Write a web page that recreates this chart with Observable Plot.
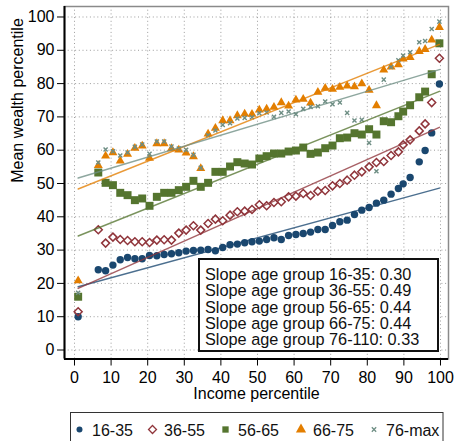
<!DOCTYPE html>
<html>
<head>
<meta charset="utf-8">
<script src="https://cdn.jsdelivr.net/npm/d3@7"></script>
<script src="https://cdn.jsdelivr.net/npm/@observablehq/plot@0.6"></script>
<style>
  body { margin: 0; background: #fff; font-family: "Liberation Sans", Arial, sans-serif; }
  #wrap { position: relative; width: 454px; height: 441px; overflow: hidden; background: #fff; }
  #chart svg { display: block; }
  #note { position: absolute; left: 198px; top: 258px; width: 241px; height: 94px; box-sizing: border-box;
          border: 2px solid #111; background: #fff; padding: 6px 0 0 5px; font-size: 16.3px; line-height: 16.3px; color: #111; white-space: nowrap; }
  #legend { position: absolute; left: 0; top: 405px; }
</style>
</head>
<body>
<div id="wrap">
  <div id="chart"></div>
  <div id="note"></div>
  <svg id="legend" width="454" height="36"></svg>
</div>
<script>
// ---- data ----
const incomePct = [1, 6.5, 8.5, 10.5, 12.5, 14.5, 16.5, 18.5, 20.5, 22.5, 24.5, 26.5, 28.5, 30.5, 32.5, 34.5,
  36.5, 38.5, 40.5, 42.5, 44.5, 46.5, 48.5, 50.5, 52.5, 54.5, 56.5, 58.5, 60.5, 62.5, 64.5, 66.5, 68.5,
  70.5, 72.5, 74.5, 76.5, 78.5, 80.5, 82.5, 84.5, 86.5, 88.5, 89.8, 91.7, 94.2, 95.8, 97.6, 99.7];

const age16_35 = [10.0, 24.1, 23.8, 25.5, 27.1, 27.8, 27.4, 27.4, 28.4, 28.3,
  28.7, 28.9, 29.2, 29.7, 29.9, 30.0, 30.2, 29.8, 30.8, 31.6,
  31.8, 32.2, 32.5, 32.7, 33.2, 33.7, 33.2, 34.4, 34.7, 35.0,
  35.4, 36.2, 36.2, 37.4, 38.5, 39.0, 40.7, 42.0, 42.8, 44.1,
  45.0, 46.8, 48.5, 49.9, 51.8, 56.5, 59.9, 65.2, 79.9];

const age36_55 = [11.5, 36.1, 32.1, 33.9, 33.2, 32.9, 32.5, 32.5, 32.3, 33.0,
  33.1, 33.0, 35.1, 36.0, 37.3, 36.0, 38.0, 39.3, 38.8, 40.5,
  41.5, 41.7, 42.2, 43.6, 43.3, 44.3, 44.5, 46.0, 46.2, 47.0,
  46.4, 47.7, 47.9, 49.3, 50.0, 51.0, 52.5, 53.5, 55.0, 56.3,
  56.6, 58.4, 59.5, 61.6, 63.1, 65.8, 67.9, 74.3, 87.6];

const age56_65 = [16.0, 53.3, 50.2, 49.5, 47.2, 46.5, 45.0, 45.5, 43.3, 46.0,
  47.2, 47.2, 48.0, 49.0, 50.8, 49.0, 50.2, 53.5, 53.5, 55.1,
  56.4, 56.0, 55.7, 57.5, 58.2, 59.0, 59.0, 59.6, 59.9, 60.8,
  58.9, 59.3, 60.6, 61.4, 63.6, 63.8, 65.1, 64.7, 66.3, 64.7,
  68.7, 68.4, 70.2, 71.6, 73.5, 75.9, 77.6, 82.8, 92.1];

const age66_75 = [20.8, 55.4, 58.3, 59.3, 56.8, 58.8, 60.6, 61.3, 57.6, 62.0,
  62.0, 60.5, 60.1, 59.2, 58.1, 54.5, 64.9, 66.6, 68.9, 68.9,
  70.4, 70.9, 70.8, 72.1, 72.4, 72.9, 74.3, 73.3, 75.1, 75.3,
  74.2, 77.4, 78.6, 78.3, 78.9, 79.3, 79.1, 80.0, 78.0, 73.4,
  84.1, 85.0, 85.7, 87.4, 87.9, 89.7, 90.3, 93.1, 96.9];

const age76_max = [17.2, 56.3, 60.2, 59.7, 58.4, 59.3, 61.0, 61.7, 58.9, 62.6,
  62.6, 61.1, 60.5, 60.1, 58.6, 54.7, 64.5, 65.9, 67.6, 68.1,
  69.5, 69.7, 69.9, 71.1, 71.3, 70.0, 71.2, 71.6, 70.8, 72.4,
  73.0, 73.2, 74.6, 73.8, 74.3, 71.2, 68.9, 69.1, 62.2, 53.7,
  81.2, 85.0, 87.0, 88.4, 89.4, 92.4, 92.8, 96.4, 98.6];

const legendLabels = ["16-35", "36-55", "56-65", "66-75", "76-max"];
const noteGroups = ["16-35", "36-55", "56-65", "66-75", "76-110"];
const slopes = [0.30, 0.49, 0.44, 0.44, 0.33];
const intercepts = [18.7, 18.0, 33.8, 47.9, 51.3];
const tickValues = [0, 10, 20, 30, 40, 50, 60, 70, 80, 90, 100];

// ---- styling ----
const colors = ["#1a476f", "#90353b", "#55752f", "#e37e00", "#6e8e84"];
const symbols = ["circle", "diamond2", "square", "triangle", "times"];
const radii = [3.7, 3.6, 4.5, 3.35, 2.0];
const filled = [true, false, true, true, false];
const series = [age16_35, age36_55, age56_65, age66_75, age76_max];

const xDomain = [-2.73, 102.19];
const yDomain = [-2.7, 103.15];

const rowsOf = (s) => incomePct.map((x, j) => ({x, y: s[j]}));
const xMin = d3.min(incomePct), xMax = d3.max(incomePct);

const dotMarks = series.map((s, i) => Plot.dot(rowsOf(s), {
  x: "x", y: "y", symbol: symbols[i], r: radii[i],
  fill: filled[i] ? colors[i] : "none",
  stroke: filled[i] ? "none" : colors[i],
  strokeWidth: filled[i] ? 0 : (symbols[i] === "times" ? 1.4 : 1.5)
}));

const lineMarks = series.map((s, i) => Plot.line(
  [xMin, xMax].map(x => ({x, y: intercepts[i] + slopes[i] * x})),
  {x: "x", y: "y", stroke: colors[i], strokeWidth: 1.5, strokeOpacity: 0.78}
));

const chart = Plot.plot({
  width: 454, height: 405,
  marginLeft: 64, marginRight: 6, marginTop: 6, marginBottom: 46.5,
  style: {fontFamily: "'Liberation Sans', Arial, sans-serif", fontSize: "16px", color: "#000", background: "#fff"},
  x: {domain: xDomain},
  y: {domain: yDomain},
  marks: [
    Plot.gridX(tickValues, {stroke: "#9c9c9c", strokeOpacity: 1, strokeWidth: 1, strokeDasharray: "1,2.7"}),
    Plot.gridY(tickValues, {stroke: "#9c9c9c", strokeOpacity: 1, strokeWidth: 1, strokeDasharray: "1,2.7"}),
    Plot.frame({stroke: "#8a8a8a", strokeWidth: 1.5}),
    ...dotMarks,
    ...lineMarks,
    Plot.ruleX([xDomain[0]], {stroke: "#000", strokeWidth: 2}),
    Plot.ruleY([yDomain[0]], {stroke: "#000", strokeWidth: 2}),
    Plot.axisY(tickValues, {tickSize: 7, tickPadding: 3, label: null, fontSize: 16, tickFormat: d => d}),
    Plot.axisX(tickValues, {tickSize: 7, tickPadding: 6, label: null, fontSize: 16, tickFormat: d => d}),
    Plot.text(["Income percentile"], {frameAnchor: "bottom", dy: 40, fontSize: 16}),
    Plot.text(["Mean wealth percentile"], {frameAnchor: "left", rotate: -90, dx: -47, fontSize: 16})
  ]
});
document.getElementById("chart").appendChild(chart);

// ---- slope annotation box ----
const note = d3.select("#note");
noteGroups.forEach((g, i) => {
  note.append("div").text(`Slope age group ${g}: ${slopes[i].toFixed(2)}`);
});

// ---- legend below the chart ----
const lg = d3.select("#legend");
lg.append("rect").attr("x", 70.5).attr("y", 7.5).attr("width", 372.5).attr("height", 40)
  .attr("fill", "#fff").attr("stroke", "#333").attr("stroke-width", 1);
const symX = [79.5, 152.5, 225.5, 301, 374];
const txtX = [92, 164, 238, 313, 386];
const legendSizes = [28, 40, 40, 45, 14];
const d3Sym = {circle: d3.symbolCircle, diamond2: d3.symbolDiamond2, square: d3.symbolSquare, triangle: d3.symbolTriangle, times: d3.symbolTimes};
legendLabels.forEach((lab, i) => {
  lg.append("path")
    .attr("transform", `translate(${symX[i]},24.5)`)
    .attr("d", d3.symbol(d3Sym[symbols[i]], legendSizes[i])())
    .attr("fill", filled[i] ? colors[i] : "none")
    .attr("stroke", filled[i] ? "none" : colors[i])
    .attr("stroke-width", 1.3);
  lg.append("text").attr("x", txtX[i]).attr("y", 31)
    .attr("font-size", 16).attr("fill", "#111")
    .attr("font-family", "'Liberation Sans', Arial, sans-serif")
    .text(lab);
});
</script>
</body>
</html>
